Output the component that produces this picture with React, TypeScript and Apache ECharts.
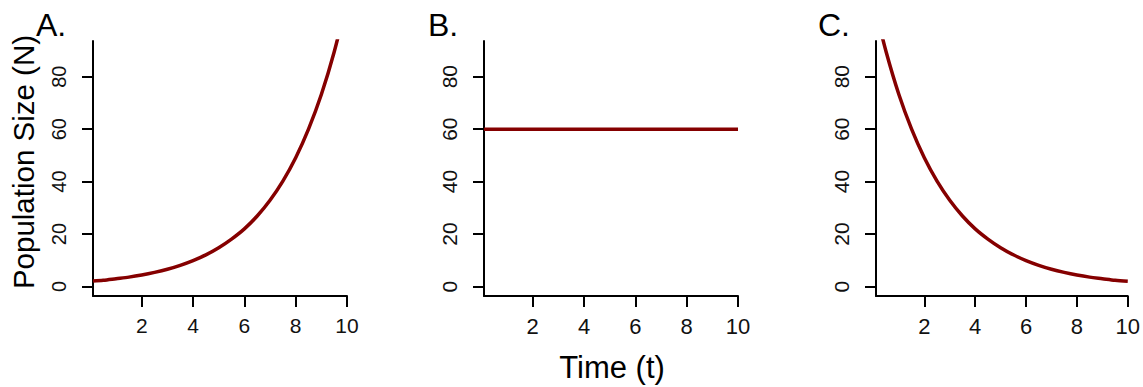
import React, { useEffect, useRef } from "react";
import * as echarts from "echarts";

const timeValues = [0.1, 0.5, 1, 1.5, 2, 2.5, 3, 3.5, 4, 4.5, 5, 5.5, 6, 6.5, 7, 7.5, 8, 8.5, 9, 9.5, 10];
const growthValues = [2.1, 2.4, 3.0, 3.6, 4.4, 5.4, 6.6, 8.1, 9.9, 12.1, 14.8, 18.1, 22.0, 26.9, 32.9, 40.2, 49.1, 60.0, 73.2, 89.4, 109.2];
const stableValues = [60, 60, 60, 60, 60, 60, 60, 60, 60, 60, 60, 60, 60, 60, 60, 60, 60, 60, 60, 60, 60];
const declineValues = [104.9, 89.4, 73.2, 60.0, 49.1, 40.2, 32.9, 26.9, 22.0, 18.1, 14.8, 12.1, 9.9, 8.1, 6.6, 5.4, 4.4, 3.6, 3.0, 2.4, 2.0];
const xTicks = [2, 4, 6, 8, 10];
const yTicks = [0, 20, 40, 60, 80];
const panelLabels = ["A.", "B.", "C."];

const FONT = "Liberation Sans";

export default function App() {
  const ref = useRef<HTMLDivElement>(null);
  useEffect(() => {
    document.body.style.margin = "0";
    if (!ref.current) return;
    const chart = echarts.init(ref.current, null, { renderer: "svg" });
    const lefts = [93, 484, 876];
    const yFont = [20, 21, 21];
    const xFont = [21, 22, 22];
    const yMargin = [24, 24, 24];
    const seriesValues = [growthValues, stableValues, declineValues];
    const grid = lefts.map((l) => ({ left: l, top: 41, width: 254, height: 255 }));
    const xAxis = lefts.map((_, i) => ({
      type: "value",
      gridIndex: i,
      min: 0.1,
      max: 10,
      splitLine: { show: false },
      axisLine: { show: true, onZero: false, lineStyle: { color: "#000", width: 2 } },
      axisTick: { show: true, length: 11, customValues: xTicks, lineStyle: { color: "#000", width: 2 } },
      axisLabel: { show: true, customValues: xTicks, margin: 19, fontSize: xFont[i], color: "#111", fontFamily: FONT },
    }));
    const yAxis = lefts.map((_, i) => ({
      type: "value",
      gridIndex: i,
      min: -3.6,
      max: 93.6,
      splitLine: { show: false },
      axisLine: { show: true, onZero: false, lineStyle: { color: "#000", width: 2 } },
      axisTick: { show: true, length: 11, customValues: yTicks, lineStyle: { color: "#000", width: 2 } },
      axisLabel: { show: true, customValues: yTicks, rotate: 90, margin: yMargin[i], fontSize: yFont[i], color: "#111", fontFamily: FONT },
    }));
    const series = seriesValues.map((vals, i) => ({
      type: "line",
      xAxisIndex: i,
      yAxisIndex: i,
      data: timeValues.map((t, j) => [t, vals[j]]),
      smooth: 0.3,
      showSymbol: false,
      clip: true,
      lineStyle: { color: "#850000", width: 3.5 },
    }));
    const graphic: any[] = [
      ...panelLabels.map((txt, i) => ({
        type: "text",
        x: [36, 428, 818][i],
        y: 25,
        style: { text: txt, font: `32px ${FONT}`, fill: "#000", align: "left", verticalAlign: "middle" },
      })),
      {
        type: "text",
        x: 23,
        y: 162,
        rotation: Math.PI / 2,
        style: { text: "Population Size (N)", font: `29.5px ${FONT}`, fill: "#000", align: "center", verticalAlign: "middle" },
      },
      {
        type: "text",
        x: 612,
        y: 367,
        style: { text: "Time (t)", font: `31px ${FONT}`, fill: "#000", align: "center", verticalAlign: "middle" },
      },
    ];
    chart.setOption({
      animation: false,
      backgroundColor: "#fff",
      textStyle: { fontFamily: FONT },
      grid,
      xAxis,
      yAxis,
      series,
      graphic,
    });
    return () => chart.dispose();
  }, []);
  return <div ref={ref} style={{ width: 1143, height: 387 }} />;
}
